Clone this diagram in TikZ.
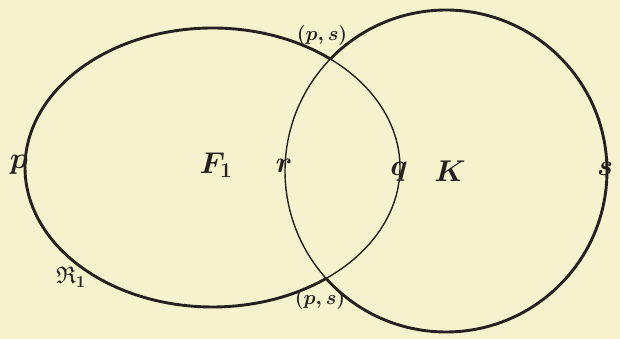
\RequirePackage{fix-cm}
\documentclass[tikz,border=0pt]{standalone}
\usepackage{amssymb}
\usetikzlibrary{calc}
\definecolor{paper}{RGB}{246,242,206}
\definecolor{ink}{RGB}{38,33,30}
\tikzset{
  thickline/.style={draw=ink, line width=2.9pt},
  thinline/.style={draw=ink, line width=1.4pt},
  biglabel/.style={text=ink, font=\fontsize{30}{33}\selectfont\boldmath, inner sep=0pt},
  smalllabel/.style={text=ink, font=\fontsize{20}{22}\selectfont\boldmath, inner sep=0pt},
}
\begin{document}
\begin{tikzpicture}[x=1pt,y=1pt]
\fill[paper] (0,0) rectangle (620,339);
\useasboundingbox (0,0) rectangle (620,339);
\coordinate (E) at (212.5,171.5);
\coordinate (C) at (446,168);
% ellipse F_1: thick outside the circle, thin inside
\draw[thickline] ($(E)+(51.07:187.5pt and 139.5pt)$) arc[start angle=51.07, end angle=307.31, x radius=187.5pt, y radius=139.5pt];
\draw[thinline] ($(E)+(-52.69:187.5pt and 139.5pt)$) arc[start angle=-52.69, end angle=51.07, x radius=187.5pt, y radius=139.5pt];
% circle K: thick outside the ellipse, thin inside
\draw[thickline] ($(C)+(221.85:161pt)$) arc[start angle=221.85, end angle=495.9, radius=161pt];
\draw[thinline] ($(C)+(135.9:161pt)$) arc[start angle=135.9, end angle=221.85, radius=161pt];
% labels
\node[smalllabel] (ps1) at (322,303) {$(p,s)$};
\node[smalllabel] (ps2) at (320,39) {$(p,s)$};
\node[biglabel] (p) at (19,174) {$p$};
\node[biglabel] (F) at (216,174) {$F_1$};
\node[biglabel] (r) at (284,173) {$r$};
\node[biglabel] (q) at (399,167) {$q$};
\node[biglabel] (K) at (450,168) {$K$};
\node[biglabel] (s) at (605,170) {$s$};
\node[text=ink, font=\fontsize{24}{26}\selectfont, inner sep=0pt] (R) at (71,62) {$\mathfrak{R}_{\mathbf 1}$};
\end{tikzpicture}
\end{document}
